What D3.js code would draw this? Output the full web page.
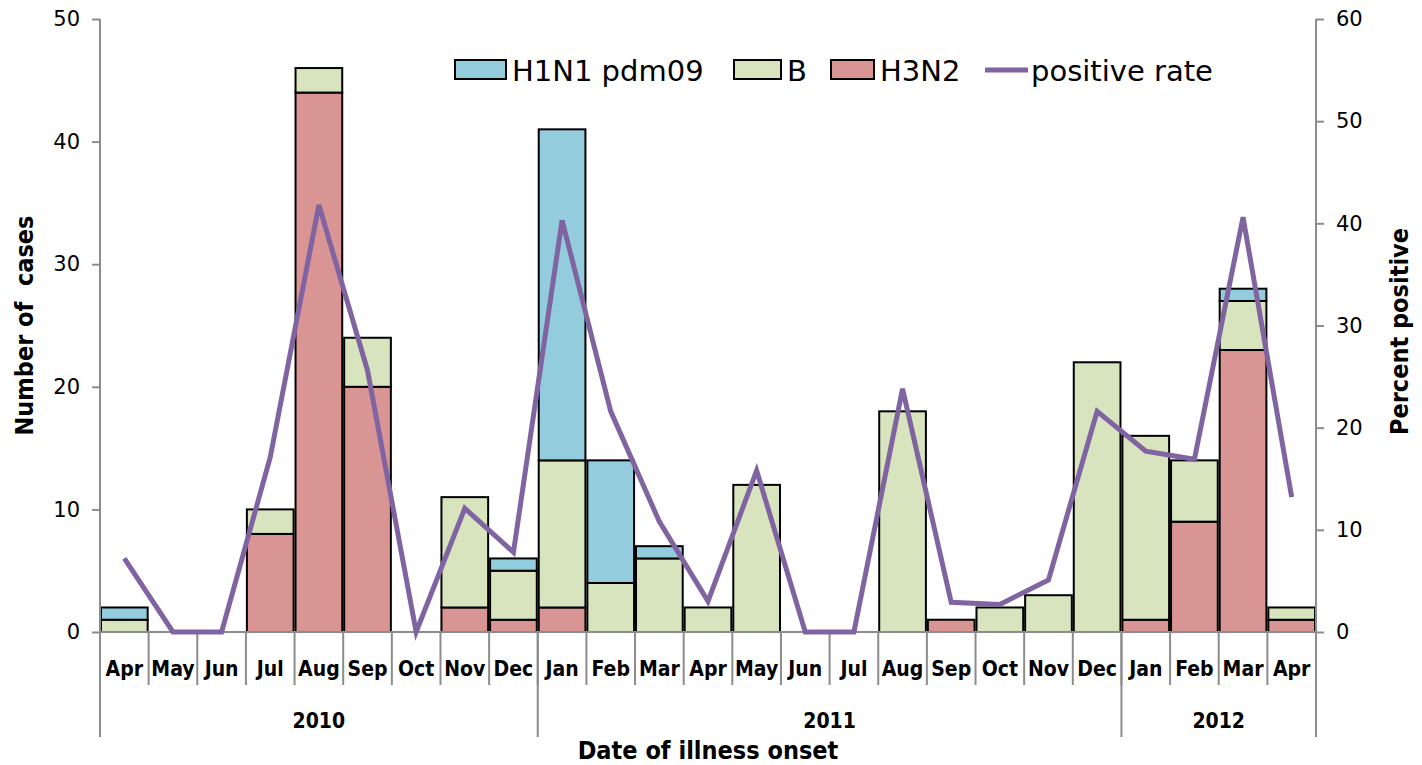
<!DOCTYPE html>
<html><head><meta charset="utf-8">
<script src="https://cdn.jsdelivr.net/npm/d3@7"></script>
<style>body{margin:0;background:#fff}svg{display:block}</style>
</head><body><svg id="c" width="1422" height="765"></svg>
<script>
const months = ["Apr","May","Jun","Jul","Aug","Sep","Oct","Nov","Dec","Jan","Feb","Mar","Apr","May","Jun","Jul","Aug","Sep","Oct","Nov","Dec","Jan","Feb","Mar","Apr"];
const years = [{label:"2010", start:0, end:9},{label:"2011", start:9, end:21},{label:"2012", start:21, end:25}];
const h3n2 = [0,0,0,8,44,20,0,2,1,2,0,0,0,0,0,0,0,1,0,0,0,1,9,23,1];
const bVals = [1,0,0,2,2,4,0,9,4,12,4,6,2,12,0,0,18,0,2,3,22,15,5,4,1];
const h1n1 = [1,0,0,0,0,0,0,0,1,27,10,1,0,0,0,0,0,0,0,0,0,0,0,1,0];
const posRate = [7.2,0,0,17.1,41.8,25.6,0,12.1,7.8,40.3,21.6,10.8,3.0,15.8,0,0,23.8,2.9,2.7,5.1,21.6,17.7,16.9,40.6,13.2];
const leftTicks = [0,10,20,30,40,50];
const rightTicks = [0,10,20,30,40,50,60];

const svg = d3.select("#c");
const L = 100, R = 1316, T = 19, B = 632;
const idx = months.map((m,i)=>i);
const x = d3.scaleBand().domain(idx).range([L,R]).paddingInner(0.04).paddingOuter(0.02);
const step = x.step();
const y = d3.scaleLinear().domain([0,50]).range([B,T]);
const y2 = d3.scaleLinear().domain([0,60]).range([B,T]);
const grey = "#8c8c8c";
const font = "'DejaVu Sans', Verdana, sans-serif";
const fontC = "'DejaVu Sans Condensed','DejaVu Sans', sans-serif";

// bars
const series = [
  {name:"H3N2", vals:h3n2, color:"#D99594"},
  {name:"B", vals:bVals, color:"#D7E4BD"},
  {name:"H1N1 pdm09", vals:h1n1, color:"#93CDDD"}
];
const stack = d3.stack().keys([0,1,2]).value((d,k)=>series[k].vals[d])(idx);
stack.forEach((layer,k)=>{
  svg.append("g").selectAll("rect").data(layer.map((d,i)=>({d,i})).filter(o=>o.d[1]>o.d[0]))
    .join("rect")
    .attr("x",o=>x(o.i)).attr("width",x.bandwidth())
    .attr("y",o=>y(o.d[1])).attr("height",o=>y(o.d[0])-y(o.d[1]))
    .attr("fill",series[k].color).attr("stroke","#000").attr("stroke-width",2);
});

// left axis
const gl = svg.append("g").attr("transform",`translate(${L},0)`)
  .call(d3.axisLeft(y).tickValues(leftTicks).tickSize(8).tickSizeOuter(0).tickPadding(12));
gl.select(".domain").remove();
gl.selectAll("line").attr("stroke",grey).attr("stroke-width",2);
gl.selectAll("text").attr("font-family",font).attr("font-size",21).attr("fill","#000");
svg.append("line").attr("x1",L).attr("x2",L).attr("y1",T).attr("y2",737).attr("stroke",grey).attr("stroke-width",2);

// right axis
const gr = svg.append("g").attr("transform",`translate(${R},0)`)
  .call(d3.axisRight(y2).tickValues(rightTicks).tickSize(8).tickSizeOuter(0).tickPadding(12));
gr.select(".domain").remove();
gr.selectAll("line").attr("stroke",grey).attr("stroke-width",2);
gr.selectAll("text").attr("font-family",font).attr("font-size",21).attr("fill","#000");
svg.append("line").attr("x1",R).attr("x2",R).attr("y1",T).attr("y2",737).attr("stroke",grey).attr("stroke-width",2);

// baseline
svg.append("line").attr("x1",L).attr("x2",R).attr("y1",B).attr("y2",B).attr("stroke",grey).attr("stroke-width",2);

// category separators & labels
const bounds = idx.slice(1).map(i=>L + i*step);
svg.append("g").selectAll("line").data(bounds).join("line")
  .attr("x1",d=>d).attr("x2",d=>d).attr("y1",B).attr("y2",685)
  .attr("stroke",grey).attr("stroke-width",2);
svg.append("g").selectAll("text").data(idx).join("text")
  .attr("x",i=>x(i)+x.bandwidth()/2).attr("y",676)
  .attr("text-anchor","middle").attr("font-family",fontC).attr("font-weight","bold").attr("font-size",21)
  .text(i=>months[i]);

// year separators & labels
svg.append("g").selectAll("line").data(years.slice(1)).join("line")
  .attr("x1",d=>L+d.start*step).attr("x2",d=>L+d.start*step).attr("y1",B).attr("y2",737)
  .attr("stroke",grey).attr("stroke-width",2);
svg.append("g").selectAll("text").data(years).join("text")
  .attr("x",d=>L+(d.start+d.end)/2*step).attr("y",728)
  .attr("text-anchor","middle").attr("font-family",fontC).attr("font-weight","bold").attr("font-size",21)
  .text(d=>d.label);

// line
const line = d3.line().x((d,i)=>x(i)+x.bandwidth()/2).y(d=>y2(d));
svg.append("path").datum(posRate).attr("d",line).attr("fill","none")
  .attr("stroke","#8064A2").attr("stroke-width",5).attr("stroke-linejoin","miter");

// axis titles
svg.append("text").attr("x",(L+R)/2).attr("y",759).attr("text-anchor","middle")
  .attr("font-family",fontC).attr("font-weight","bold").attr("font-size",25).text("Date of illness onset");
svg.append("text").attr("transform",`translate(33,${(T+B)/2}) rotate(-90)`).attr("text-anchor","middle")
  .attr("font-family",fontC).attr("font-weight","bold").attr("font-size",25).attr("xml:space","preserve").text("Number of  cases");
svg.append("text").attr("transform",`translate(1408,${(T+B)/2+6}) rotate(-90)`).attr("text-anchor","middle")
  .attr("font-family",fontC).attr("font-weight","bold").attr("font-size",25).text("Percent positive");

// legend
const leg = [
  {name:"H1N1 pdm09", color:"#93CDDD", x:455, tx:512, type:"rect"},
  {name:"B", color:"#D7E4BD", x:734, tx:787, type:"rect"},
  {name:"H3N2", color:"#D99594", x:831, tx:880, type:"rect"},
  {name:"positive rate", color:"#8064A2", x:985, tx:1031, type:"line"}
];
const lg = svg.append("g");
leg.forEach(d=>{
  if(d.type==="rect"){
    lg.append("rect").attr("x",d.x).attr("y",60).attr("width",d.tx-d.x-6).attr("height",19)
      .attr("fill",d.color).attr("stroke","#000").attr("stroke-width",2);
  } else {
    lg.append("line").attr("x1",d.x).attr("x2",d.tx-3).attr("y1",70).attr("y2",70)
      .attr("stroke",d.color).attr("stroke-width",5);
  }
  lg.append("text").attr("x",d.tx).attr("y",81).attr("font-family",font).attr("font-size",29).text(d.name);
});
</script></body></html>
